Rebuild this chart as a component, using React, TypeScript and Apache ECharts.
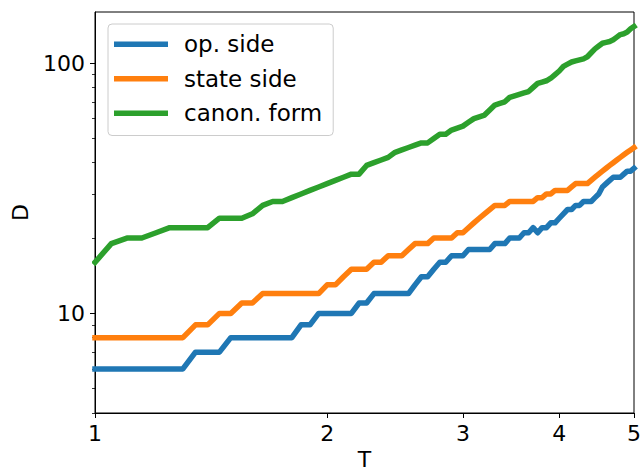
import React, { useEffect, useRef } from "react";
import * as echarts from "echarts";

const T = [
  1.0, 1.05, 1.1, 1.15, 1.2, 1.25, 1.3, 1.35, 1.4, 1.45,
  1.5, 1.55, 1.6, 1.65, 1.7, 1.75, 1.8, 1.85, 1.9, 1.95,
  2.0, 2.05, 2.1, 2.15, 2.2, 2.25, 2.3, 2.35, 2.4, 2.45,
  2.5, 2.55, 2.6, 2.65, 2.7, 2.75, 2.8, 2.85, 2.9, 2.95,
  3.0, 3.05, 3.1, 3.15, 3.2, 3.25, 3.3, 3.35, 3.4, 3.45,
  3.5, 3.55, 3.6, 3.65, 3.7, 3.75, 3.8, 3.85, 3.9, 3.95,
  4.0, 4.05, 4.1, 4.15, 4.2, 4.25, 4.3, 4.35, 4.4, 4.45,
  4.5, 4.55, 4.6, 4.65, 4.7, 4.75, 4.8, 4.85, 4.9, 4.95,
  5.0,
];

const opSide = [
  6, 6, 6, 6, 6, 6, 6, 7, 7, 7,
  8, 8, 8, 8, 8, 8, 8, 9, 9, 10,
  10, 10, 10, 10, 11, 11, 12, 12, 12, 12,
  12, 12, 13, 14, 14, 15, 16, 16, 17, 17,
  17, 18, 18, 18, 18, 18, 19, 19, 19, 20,
  20, 20, 21, 21, 22, 21, 22, 22, 23, 23,
  24, 25, 26, 26, 27, 27, 28, 28, 28, 29,
  30, 32, 33, 34, 35, 35, 35, 36, 37, 37,
  38,
];

const stateSide = [
  8, 8, 8, 8, 8, 8, 8, 9, 9, 10,
  10, 11, 11, 12, 12, 12, 12, 12, 12, 12,
  13, 13, 14, 15, 15, 15, 16, 16, 17, 17,
  17, 18, 19, 19, 19, 20, 20, 20, 20, 21,
  21, 22, 23, 24, 25, 26, 27, 27, 27, 28,
  28, 28, 28, 28, 28, 29, 29, 30, 30, 31,
  31, 31, 31, 32, 33, 33, 33, 33, 34, 35,
  36, 37, 38, 39, 40, 41, 42, 43, 44, 45,
  46,
];

const canonForm = [
  16, 19, 20, 20, 21, 22, 22, 22, 22, 24,
  24, 24, 25, 27, 28, 28, 29, 30, 31, 32,
  33, 34, 35, 36, 36, 39, 40, 41, 42, 44,
  45, 46, 47, 48, 48, 50, 52, 52, 54, 55,
  56, 58, 60, 61, 62, 65, 68, 69, 70, 73,
  74, 75, 76, 77, 80, 83, 84, 85, 87, 90,
  93, 97, 99, 101, 102, 103, 104, 106, 110, 114,
  117, 120, 121, 122, 124, 127, 130, 131, 133, 137,
  140,
];

const seriesNames = ["op. side", "state side", "canon. form"];
const seriesColors = ["#1f77b4", "#ff7f0e", "#2ca02c"];
const xTicks = [1, 2, 3, 4, 5];
const yMajorTicks = [10, 100];
const yMinorTicks = [4, 5, 6, 7, 8, 9, 20, 30, 40, 50, 60, 70, 80, 90];

const FONT = "DejaVu Sans";

export default function App() {
  const ref = useRef<HTMLDivElement>(null);
  useEffect(() => {
    if (!ref.current) return;
    const chart = echarts.init(ref.current, null, { renderer: "svg" });
    const pairs = (ys: number[]) => T.map((t, i) => [t, ys[i]]);
    const allData = [opSide, stateSide, canonForm];
    const yMin = 4;
    const yMax = 160;
    chart.setOption({
      animation: false,
      backgroundColor: "#ffffff",
      textStyle: { fontFamily: FONT },
      grid: {
        left: 95,
        right: 6,
        top: 12,
        bottom: 58,
        containLabel: false,
        outerBoundsMode: "none",
        show: true,
        borderColor: "#000",
        borderWidth: 1,
        backgroundColor: "transparent",
      },
      legend: {
        left: 108,
        top: 24,
        orient: "vertical",
        icon: "rect",
        itemWidth: 54,
        itemHeight: 5.5,
        itemGap: 10,
        padding: [8, 11, 10, 6],
        borderColor: "#cccccc",
        borderWidth: 1,
        borderRadius: 4,
        backgroundColor: "rgba(255,255,255,0.8)",
        textStyle: {
          fontFamily: FONT,
          fontSize: 23,
          color: "#000",
          lineHeight: 24.5,
          padding: [0, 0, 0, 11],
        },
        data: seriesNames,
      },
      xAxis: {
        type: "log",
        logBase: 10,
        min: 1,
        max: 5,
        name: "T",
        nameLocation: "middle",
        nameGap: 34,
        nameTextStyle: { fontFamily: FONT, fontSize: 22, color: "#000" },
        axisLine: { show: true, lineStyle: { color: "#000", width: 1 } },
        axisTick: {
          show: true,
          length: 5,
          inside: false,
          customValues: xTicks,
          lineStyle: { color: "#000", width: 1 },
        },
        axisLabel: {
          customValues: xTicks,
          fontFamily: FONT,
          fontSize: 22,
          color: "#000",
          margin: 9,
          formatter: (v: number) => String(Math.round(v)),
        },
        splitLine: { show: false },
        minorTick: { show: false },
      },
      yAxis: [
        {
          type: "log",
          logBase: 10,
          min: yMin,
          max: yMax,
          position: "left",
          name: "D",
          nameLocation: "middle",
          nameGap: 64,
          nameRotate: 90,
          nameTextStyle: { fontFamily: FONT, fontSize: 22, color: "#000" },
          axisLine: { show: true, lineStyle: { color: "#000", width: 1 } },
          axisTick: {
            show: true,
            length: 5,
            inside: false,
            customValues: yMajorTicks,
            lineStyle: { color: "#000", width: 1 },
          },
          axisLabel: {
            customValues: yMajorTicks,
            fontFamily: FONT,
            fontSize: 22,
            color: "#000",
            margin: 10,
            formatter: (v: number) => String(Math.round(v)),
          },
          splitLine: { show: false },
        },
        {
          type: "log",
          logBase: 10,
          min: yMin,
          max: yMax,
          position: "left",
          axisLine: { show: false },
          axisTick: {
            show: true,
            length: 3,
            inside: false,
            customValues: yMinorTicks,
            lineStyle: { color: "#000", width: 0.8 },
          },
          axisLabel: { show: false },
          splitLine: { show: false },
        },
      ],
      series: allData.map((ys, k) => ({
        name: seriesNames[k],
        type: "line",
        xAxisIndex: 0,
        yAxisIndex: 0,
        data: pairs(ys),
        showSymbol: false,
        symbol: "none",
        color: seriesColors[k],
        lineStyle: { width: 5.5, color: seriesColors[k], join: "round", cap: "square" },
        z: 2 + k,
        clip: true,
      })),
    });
    return () => chart.dispose();
  }, []);
  return (
    <div
      ref={ref}
      style={{ position: "absolute", left: 0, top: 0, width: 640, height: 471 }}
    />
  );
}
